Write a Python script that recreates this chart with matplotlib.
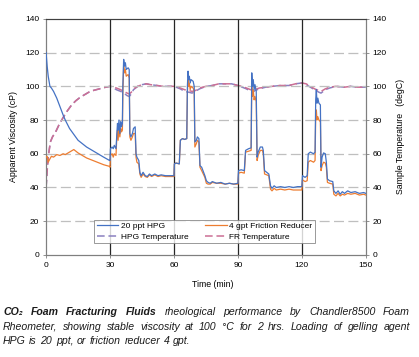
import matplotlib
matplotlib.use("Agg")
import matplotlib.pyplot as plt
from matplotlib.lines import Line2D

# Datos (tiempo en min, viscosidad en cP, temperatura en degC)
t_hpg = [0, 0.5, 1, 1.8, 2.5, 3.5, 5, 6.5, 8, 9, 11, 13, 15, 17, 19, 21, 23, 25, 27, 29.8,
         30, 30.2, 31, 31.5, 32, 32.8, 33.2, 33.5, 33.8, 34.2, 34.6, 35, 35.4, 35.8, 36, 36.4,
         36.8, 37.2, 37.6, 38.5, 39, 39.3, 39.8, 40.5, 41, 41.8, 42.2, 42.6, 43.5, 44, 44.6,
         45.5, 46.5, 47.5, 48.5, 49.5, 51, 52.5, 54, 56, 58, 60,
         60.2, 61, 62.5, 63, 64, 65, 66, 66.3, 66.6, 66.9, 67.2, 67.6, 68, 69, 69.5, 69.8,
         70.5, 71, 71.7, 72.2, 73, 74.5, 75.2, 76, 77, 78, 80, 82, 84, 86, 88, 90,
         90.3, 91.5, 93, 93.6, 95, 96.2, 96.5, 96.8, 97.2, 97.6, 98, 98.6, 99, 99.5, 100.5,
         101.5, 101.9, 102.5, 103.5, 104.5, 105.3, 106, 107, 108, 110, 112, 114, 116, 118, 120,
         120.3, 121.5, 122.5, 123, 124, 125.5, 126.2, 126.5, 126.8, 127.1, 127.5, 128, 128.7,
         129, 129.5, 130.2, 131, 131.5, 132, 133, 134.5, 135, 136, 137, 138, 139, 140, 141.5,
         143, 145, 147, 149, 150]
v_hpg = [120, 112, 106, 100, 99, 97, 93, 88, 83, 80, 75, 71.5, 68, 66, 64, 62.5, 61, 59.5, 58, 56,
         56, 63, 64, 63, 65, 63, 72, 78, 74, 80, 72, 79, 76, 78, 100, 116,
         112, 114, 110, 111, 110, 72, 70, 72, 75, 76, 60, 58, 56, 49, 47,
         49, 47, 46.5, 48, 47, 48, 47, 47.5, 47, 47, 47,
         54, 54.5, 54, 68, 69, 68.5, 69, 100, 109, 104, 106, 102, 104, 103, 100, 67,
         68, 70, 69, 53, 52, 47, 44, 43, 42.5, 43.5, 42.5, 43, 42, 42.5, 42, 42.5,
         50, 50.5, 50, 62, 63, 63.5, 108, 100, 104, 98, 101, 97, 58, 61, 64,
         64, 62, 50, 49, 48, 41, 39.5, 41, 40, 40.5, 40, 40.5, 40, 40.5, 40.5,
         47, 46, 47, 60, 61, 60, 61, 92, 98, 90, 93, 90, 89,
         52, 58, 60.5, 60, 55, 45, 44, 43.5, 38, 36.5, 38, 36, 37.5, 36.5, 38,
         37, 37.5, 36.5, 37, 36.5]

t_fr = t_hpg
v_fr = [58, 58.5, 55, 57, 58.5, 58, 59.5, 59, 60, 59.5, 61, 62.5, 62, 61, 61.5, 60.5, 61, 60.5, 59, 52.5,
        52, 59, 60, 58, 60, 59, 70, 74, 68, 76, 70, 75, 73, 74, 95, 112,
        108, 110, 106, 107, 105, 70, 68, 70, 72, 72, 58, 55, 54, 48, 46,
        48, 46.5, 46, 47.5, 46.5, 47.5, 46.5, 47, 46.5, 46.5, 46.5,
        54, 54.5, 54, 68, 69, 68.5, 69, 96, 104, 100, 102, 98, 100, 99, 97, 64,
        66, 68, 67, 52, 50, 46, 42.5, 42, 42, 43, 42.5, 42.5, 42, 42.5, 42, 42,
        48.5, 49, 48.5, 61, 61.5, 62, 100, 94, 98, 92, 94, 91, 56, 59, 62,
        62, 60, 48, 47.5, 47, 39, 38, 39.5, 38.5, 39, 38.5, 39, 38.5, 38.5, 38.5,
        44.5, 43.5, 44, 55, 56, 55, 56, 82, 86, 80, 82, 80, 79,
        50, 53, 55, 54.5, 52, 43, 42.5, 42, 36, 35, 36.5, 35, 36, 35.5, 36.5,
        36, 36.5, 35.5, 36, 35.5]
# tramo 15-29.8 min del FR (más bajo que el HPG)
v_fr[12:20] = [60.5, 59, 57.5, 56.5, 55.5, 54.5, 53.5, 52.5]

t_temp = [0, 0.5, 1, 2, 3, 4.5, 6, 8, 10, 12, 14, 16, 18, 20, 22, 25, 28, 30, 31, 33, 35, 36.5,
          38, 39, 40, 41, 43, 45, 47, 49, 52, 55, 58, 60, 61, 63, 65, 67, 68.5, 70, 72, 75, 78,
          81, 84, 87, 90, 92, 94, 96, 97, 98, 100, 103, 106, 110, 114, 117, 120, 122, 124, 126,
          128, 129, 131, 133, 136, 140, 143, 146, 150]
temp_hpg = [40, 50, 58, 67, 70, 73, 77, 81.5, 85.5, 89, 91.5, 93.5, 95, 96.5, 97.5, 98.5, 99.5, 100,
            99.5, 98, 97, 96, 94.5, 94, 95.5, 98, 100, 101, 101.5, 101, 100.5, 100, 100, 100, 99.5,
            98.5, 97, 96.5, 96, 97, 98.5, 100, 100.5, 101.5, 101.5, 101.5, 100.5, 99.5, 98.5, 97,
            96.5, 97.5, 98.5, 99.5, 100, 100.5, 100.5, 101.5, 102, 101, 99.5, 98, 96.5, 96, 98, 99,
            100, 99.5, 100, 99.5, 99.5]
temp_fr = [40, 50, 58, 67, 70, 73, 77, 81.5, 85.5, 89, 91.5, 93.5, 95, 96.5, 97.5, 98.5, 99.5, 100,
           100, 99, 98, 97, 96, 95.5, 96.5, 98.5, 100, 101, 101.5, 101, 100.5, 100, 100, 100, 100,
           99, 98, 97.5, 97, 97.5, 99, 100, 100.5, 101.5, 101.5, 101.5, 100.5, 100, 99, 98,
           97.5, 98, 99, 99.5, 100, 100.5, 100.5, 101.5, 102, 101.5, 100, 98.5, 97.5, 97, 98.5, 99.5,
           100, 99.5, 100, 99.5, 99.5]

x_ticks = [0, 30, 60, 90, 120, 150]
y_ticks = [0, 20, 40, 60, 80, 100, 120, 140]
lineas_verticales = [30, 60, 90, 120]

azul = "#4472C4"
naranja = "#ED7D31"
azul_temp = "#8A80C0"
rosa_temp = "#CC6F94"
fuente = ["Liberation Sans", "DejaVu Sans"]

plt.rcParams["font.family"] = fuente

fig = plt.figure(figsize=(4.19, 3.57), dpi=100)
ax = fig.add_axes([0.110, 0.286, 0.763, 0.661])
ax2 = ax.twinx()

# Rejilla horizontal y líneas verticales
for y in y_ticks[1:-1]:
    ax.axhline(y, color="#BFBFBF", lw=0.9, dashes=(8, 3.5), zorder=0)
for x in lineas_verticales:
    ax.axvline(x, color="#262626", lw=0.9, zorder=1)

ax2.plot(t_temp, temp_hpg, color=azul_temp, lw=1.1, dashes=(5, 2.5), label="HPG Temperature")
ax2.plot(t_temp, temp_fr, color=rosa_temp, lw=1.1, dashes=(5, 2.5), label="FR Temperature")
ax.plot(t_fr, v_fr, color=naranja, lw=0.9, zorder=3, label="4 gpt Friction Reducer")
ax.plot(t_hpg, v_hpg, color=azul, lw=0.9, zorder=4, label="20 ppt HPG")
ax.set_zorder(ax2.get_zorder() + 1)
ax.patch.set_visible(False)

for a in (ax, ax2):
    a.set_xlim(0, 150)
    a.set_ylim(0, 140)
    a.set_yticks(y_ticks)
    a.tick_params(labelsize=6, length=2.5, width=0.6, color="#808080", pad=2.5)
    for s in a.spines.values():
        s.set_color("#7F7F7F")
        s.set_linewidth(0.8)
ax.set_xticks(x_ticks)
ax.spines["top"].set_color("#404040")

ax.set_xlabel("Time (min)", fontsize=6.3)
ax.xaxis.set_label_coords(0.52, -0.105)
ax.set_ylabel("Apparent Viscosity (cP)", fontsize=6.3)
ax.yaxis.set_label_coords(-0.088, 0.5)
ax2.set_ylabel("Sample Temperature   (degC)", fontsize=6.3)
ax2.yaxis.set_label_coords(1.095, 0.5)

handles = [
    Line2D([], [], color=azul, lw=0.9),
    Line2D([], [], color=azul_temp, lw=1.1, dashes=(5, 2.5)),
    Line2D([], [], color=naranja, lw=0.9),
    Line2D([], [], color=rosa_temp, lw=1.1, dashes=(5, 2.5)),
]
labels = ["20 ppt HPG", "HPG Temperature", "4 gpt Friction Reducer", "FR Temperature"]
leg = ax.legend(handles, labels, ncol=2, loc="lower left", bbox_to_anchor=(0.15, 0.05, 0.69, 0.108),
                mode="expand", fontsize=6, frameon=True, fancybox=False, edgecolor="#808080",
                handlelength=2.6, handletextpad=0.3, borderpad=0.3, labelspacing=0.35,
                columnspacing=1.0, borderaxespad=0)
leg.get_frame().set_linewidth(0.7)

# Pie de figura justificado
lineas = [
    [("CO₂", "bold"), ("Foam", "bold"), ("Fracturing", "bold"), ("Fluids", "bold"),
     ("rheological", "normal"), ("performance", "normal"), ("by", "normal"),
     ("Chandler8500", "normal"), ("Foam", "normal")],
    [(w, "normal") for w in "Rheometer, showing stable viscosity at 100 °C for 2 hrs. Loading of gelling agent".split()],
    [(w, "normal") for w in "HPG is 20 ppt, or friction reducer 4 gpt.".split()],
]
y_lineas = [0.127, 0.085, 0.045]
x0, x1 = 3 / 419, 410 / 419
renderer = fig.canvas.get_renderer()
for i, (palabras, yl) in enumerate(zip(lineas, y_lineas)):
    textos = [fig.text(0, yl, w, fontsize=7.6, style="italic", weight=peso, va="center",
                       family=fuente, color="#1a1a1a") for w, peso in palabras]
    anchos = [t.get_window_extent(renderer).width / fig.bbox.width for t in textos]
    espacio_normal = 0.0085
    if i < 2:
        espacio = (x1 - x0 - sum(anchos)) / (len(textos) - 1)
    else:
        espacio = espacio_normal
    x = x0
    for t, w in zip(textos, anchos):
        t.set_x(x)
        x += w + espacio

fig.savefig("out.png", dpi=100)
